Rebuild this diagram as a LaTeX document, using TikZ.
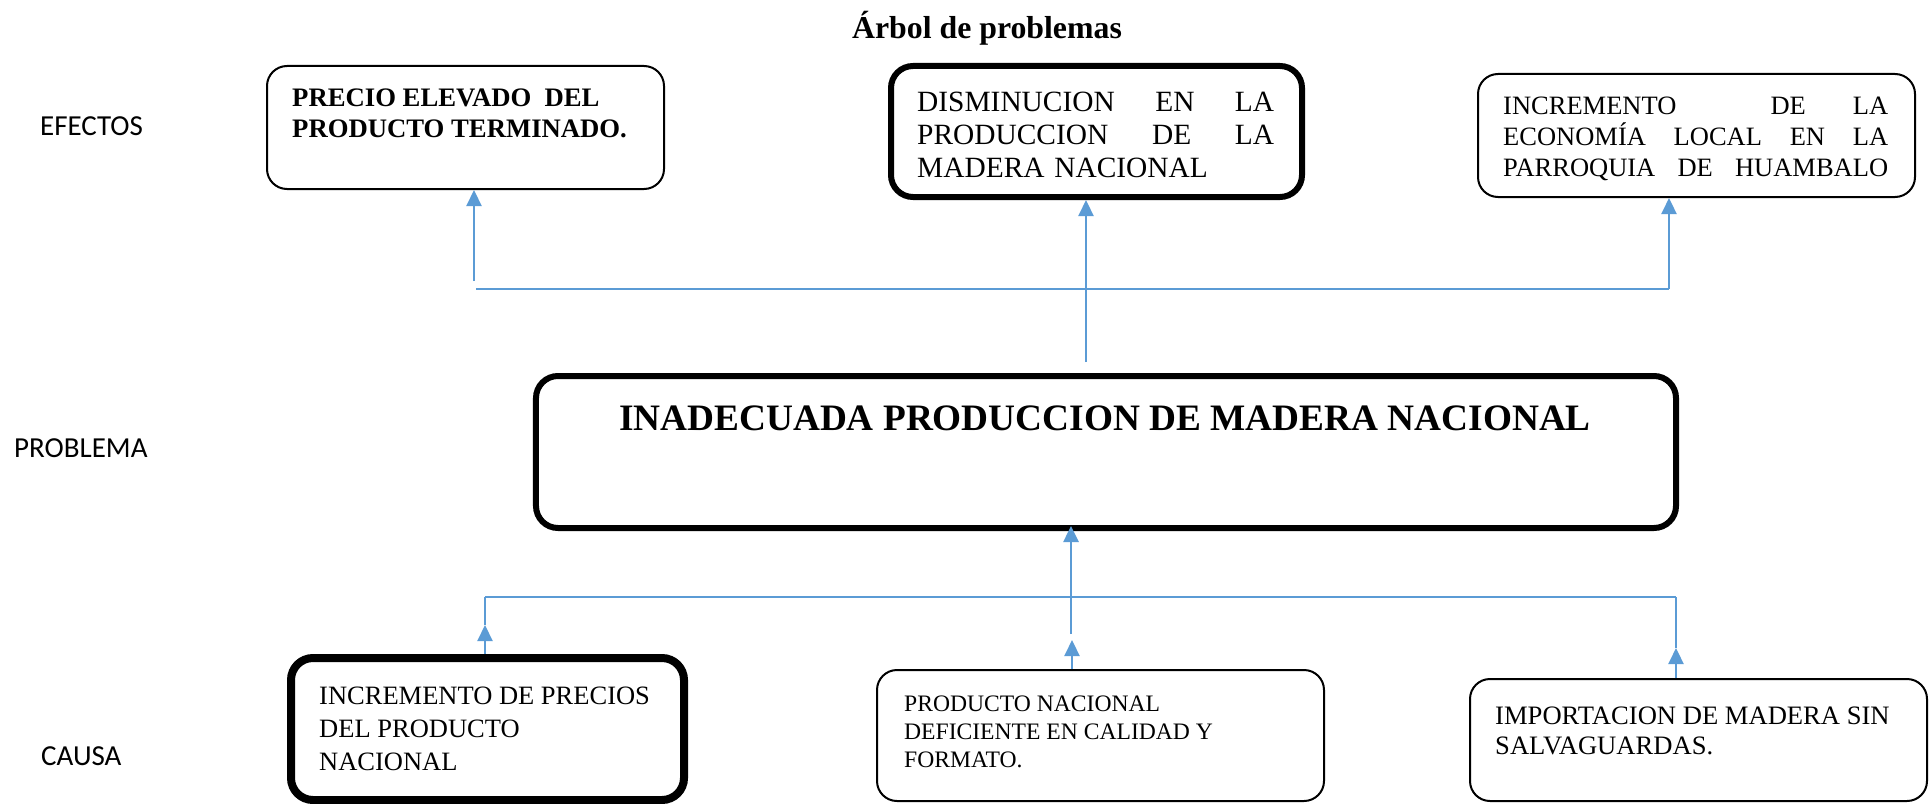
\documentclass[tikz,border=0pt]{standalone}
\usepackage{fontspec}
\setmainfont{Liberation Serif}
\newfontfamily\lblfont{Carlito}
\usetikzlibrary{arrows.meta}
\definecolor{arrowblue}{HTML}{5B9BD5}
\tikzset{
  box/.style={draw=black, rounded corners=20bp, inner sep=0pt, line width=2bp, fill=none},
  thickbox/.style={box, rounded corners=22bp, line width=6bp},
  conn/.style={draw=arrowblue, line width=1.5bp},
  arr/.style={draw=arrowblue, line width=2.2bp, -{Triangle[length=16bp,width=15bp]}},
  lbl/.style={inner sep=0pt, anchor=base west, font=\lblfont\fontsize{29bp}{34bp}\selectfont},
  txt/.style={inner sep=0pt, anchor=north west, align=left},
}
\begin{document}
\begin{tikzpicture}[x=1bp,y=-1bp]
\useasboundingbox (0,0) rectangle (1930,804);

% title and side labels
\node[inner sep=0pt, anchor=base, font=\bfseries\fontsize{31.8bp}{36bp}\selectfont] (title) at (987,39) {Árbol de problemas};
\node[lbl] (lefectos) at (40,135) {EFECTOS};
\node[lbl] (lproblema) at (14,457) {PROBLEMA};
\node[lbl] (lcausa) at (41,765) {CAUSA};

% boxes
\node[box, minimum width=397bp, minimum height=123bp] (e1) at (465.5,127.5) {};
\node[thickbox, minimum width=411bp, minimum height=131bp] (e2) at (1096.5,131.5) {};
\node[box, minimum width=437bp, minimum height=123bp] (e3) at (1696.5,135.5) {};
\node[thickbox, minimum width=1140bp, minimum height=152bp] (pb) at (1106,452) {};
\node[thickbox, line width=8bp, minimum width=393bp, minimum height=142bp] (c1) at (487.5,729) {};
\node[box, minimum width=447bp, minimum height=131bp] (c2) at (1100.5,735.5) {};
\node[box, minimum width=457bp, minimum height=122bp] (c3) at (1698.5,740) {};

% texts
\node[txt, font=\bfseries\fontsize{26.7bp}{31bp}\selectfont] (e1t) at (292,89)
  {PRECIO ELEVADO\ \ DEL\\PRODUCTO TERMINADO.};
\node[txt, text width=357bp, font=\fontsize{29.4bp}{33bp}\selectfont] (e2t) at (917,92)
  {DISMINUCION\hfill EN\hfill LA\\PRODUCCION\hfill DE\hfill LA\\MADERA NACIONAL};
\node[txt, text width=385bp, font=\fontsize{26.5bp}{31bp}\selectfont] (e3t) at (1503,97)
  {INCREMENTO\hfill\hfill DE\hfill LA\\ECONOMÍA\hfill LOCAL\hfill EN\hfill LA\\PARROQUIA\hfill DE\hfill HUAMBALO};
\node[inner sep=0pt, anchor=base, font=\bfseries\fontsize{37.3bp}{42bp}\selectfont] (pbt) at (1105,430)
  {INADECUADA PRODUCCION DE MADERA NACIONAL};
\node[txt, font=\fontsize{26.5bp}{33bp}\selectfont] (c1t) at (319,687)
  {INCREMENTO DE PRECIOS\\DEL PRODUCTO\\NACIONAL};
\node[txt, font=\fontsize{23.6bp}{28bp}\selectfont] (c2t) at (904,696)
  {PRODUCTO NACIONAL\\DEFICIENTE EN CALIDAD Y\\FORMATO.};
\node[txt, font=\fontsize{26.6bp}{30bp}\selectfont] (c3t) at (1495,707)
  {IMPORTACION DE MADERA SIN\\SALVAGUARDAS.};

% top connectors (effects)
\coordinate (th1) at (476,289);
\coordinate (th2) at (1669,289);
\coordinate (ta1) at (474,281);
\coordinate (tm) at (1086,362);
\draw[conn] (th1) -- (th2);
\draw[arr] (ta1) -- (ta1 |- e1.south);
\draw[arr] (tm) -- (tm |- e2.south);
\draw[arr] (th2) -- (th2 |- e3.south);

% bottom connectors (causes)
\coordinate (bh1) at (485,597);
\coordinate (bh2) at (1676,597);
\coordinate (bl) at (485,625);
\coordinate (bm) at (1072,640);
\coordinate (bm2) at (1071,634);
\coordinate (br) at (1676,648);
\draw[conn] (bh1) -- (bh2);
\draw[conn] (bh1) -- (bl);
\draw[arr] (bl |- c1.north) -- (bl);
\draw[arr] (bm |- c2.north) -- (bm);
\draw[arr, line width=2.6bp] (bm2) -- ([yshift=5bp]bm2 |- pb.south);
\draw[conn] (bh2) -- (br);
\draw[arr] (br |- c3.north) -- (br);
\end{tikzpicture}
\end{document}
